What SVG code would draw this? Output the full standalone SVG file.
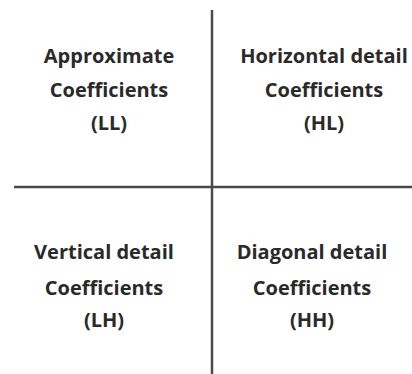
<svg xmlns="http://www.w3.org/2000/svg" width="412" height="374" viewBox="0 0 412 374">
<style>
text{font-family:"Open Sans","Liberation Sans",sans-serif;font-weight:bold;font-size:20px;fill:#2a2a2a;text-anchor:middle}
.ln{stroke:#4a4a4a;stroke-width:2.5;fill:none}
</style>
<rect width="412" height="374" fill="#fff"/>
<g id="connectors">
<line class="ln" x1="212" y1="10" x2="212" y2="374"/>
<line class="ln" x1="14" y1="187" x2="412" y2="187"/>
</g>
<g id="LL">
<text x="109" y="63">Approximate</text>
<text x="109" y="97">Coefficients</text>
<text x="109" y="130">(LL)</text>
</g>
<g id="HL">
<text x="324" y="63">Horizontal detail</text>
<text x="324" y="97">Coefficients</text>
<text x="324" y="130">(HL)</text>
</g>
<g id="LH">
<text x="104" y="259">Vertical detail</text>
<text x="104" y="295">Coefficients</text>
<text x="104" y="327">(LH)</text>
</g>
<g id="HH">
<text x="312" y="259">Diagonal detail</text>
<text x="312" y="295">Coefficients</text>
<text x="312" y="327">(HH)</text>
</g>
</svg>
